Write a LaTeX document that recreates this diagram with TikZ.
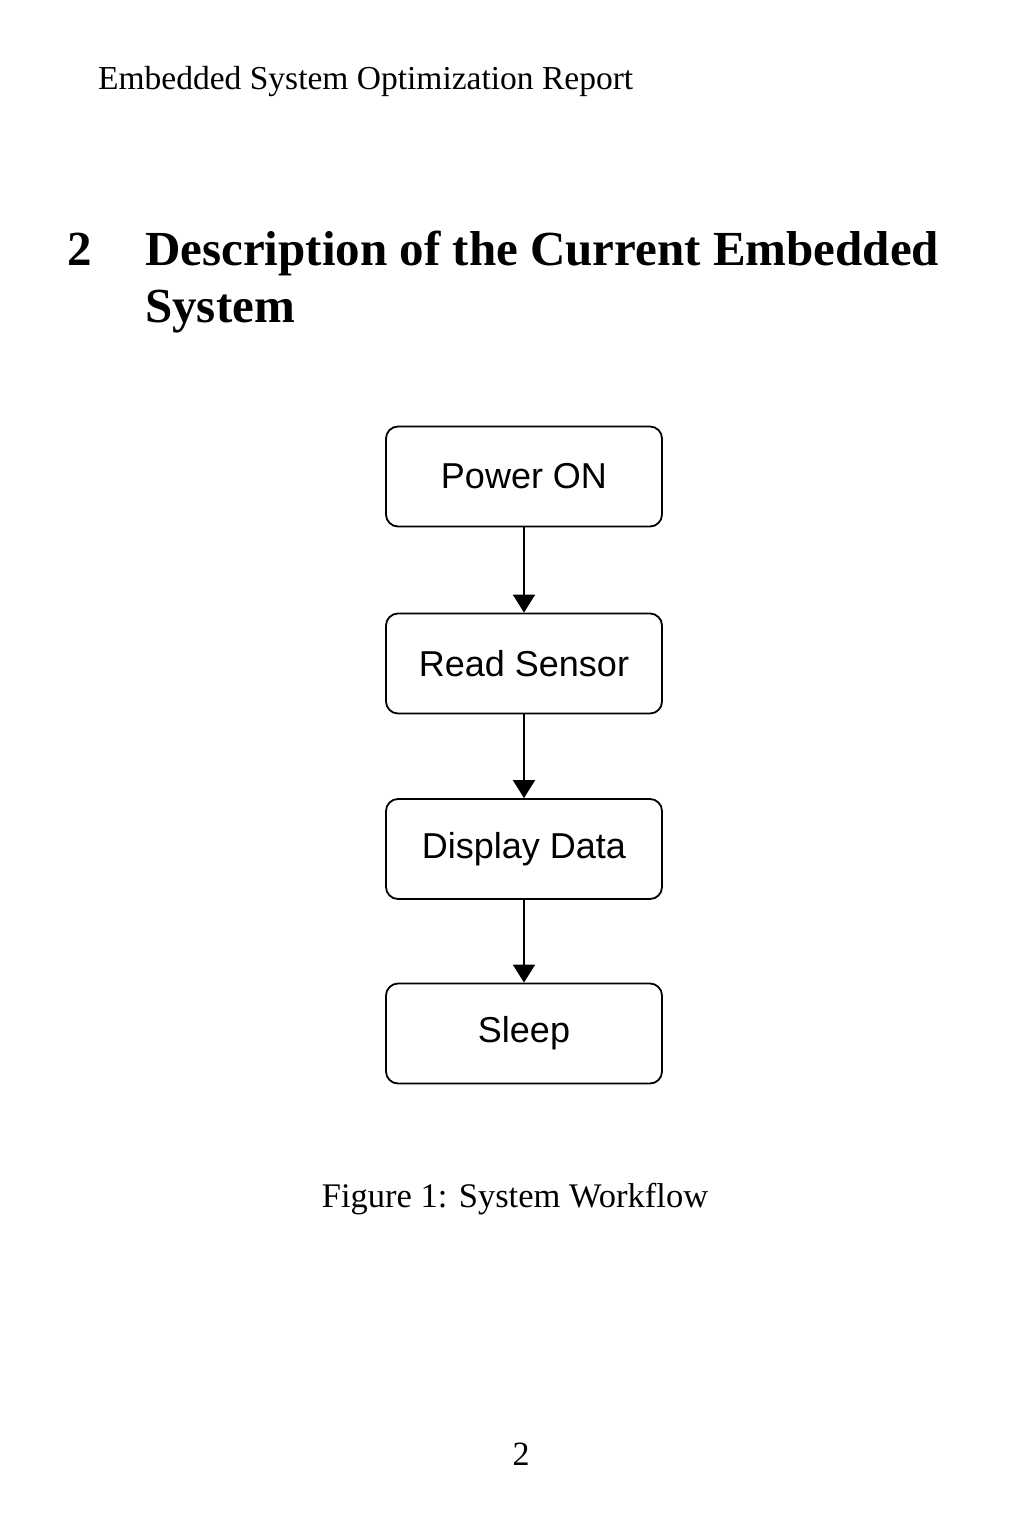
\documentclass[tikz,border=0pt]{standalone}
\usepackage{fontspec}
\setmainfont{Liberation Serif}
\newfontfamily\boxfont{Liberation Sans}
\usetikzlibrary{arrows.meta}
\begin{document}
\begin{tikzpicture}[x=1pt,y=-1pt,
  stepbox/.style={draw, line width=1.8pt, rounded corners=12pt, minimum width=276pt, minimum height=100pt, inner sep=0pt, font=\boxfont\fontsize{36}{40}\selectfont},
  txt/.style={inner sep=0pt, anchor=base west},
  conn/.style={line width=1.8pt, -{Triangle[width=22pt,length=18pt]}}]
\useasboundingbox[fill=white] (0,0) rectangle (1024,1536);
\node[txt, font=\fontsize{33.5}{38}\selectfont] (hdr) at (98,90) {Embedded System Optimization Report};
\node[txt, font=\bfseries\fontsize{49}{56}\selectfont] (num) at (67,265) {2};
\node[txt, font=\bfseries\fontsize{49}{56}\selectfont] (t1) at (145,265) {Description of the Current Embedded};
\node[txt, font=\bfseries\fontsize{49}{56}\selectfont] (t2) at (145,322) {System};
\node[stepbox] (a) at (524,476.5) {Power ON};
\node[stepbox] (b) at (524,663.5) {Read Sensor};
\node[stepbox] (c) at (524,849) {Display Data};
\node[stepbox] (d) at (524,1033.5) {Sleep};
\draw[conn] (a) -- (b);
\draw[conn] (b) -- (c);
\draw[conn] (c) -- (d);
\node[inner sep=0pt, anchor=base, font=\fontsize{34.5}{40}\selectfont] (cap) at (515,1207) {Figure 1: System Workflow};
\node[inner sep=0pt, anchor=base, font=\fontsize{34}{40}\selectfont] (pg) at (521,1465) {2};
\end{tikzpicture}
\end{document}
